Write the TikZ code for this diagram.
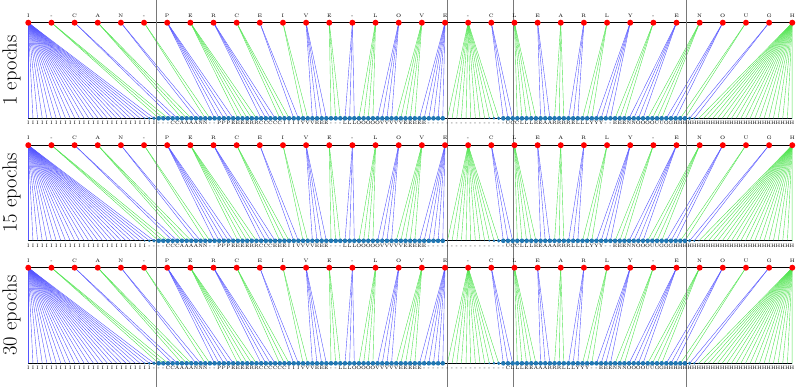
\documentclass[tikz,border=0pt]{standalone}
\usepackage{fontspec}
\usetikzlibrary{positioning, backgrounds}
\definecolor{cDot}{RGB}{255, 0, 0}
\definecolor{cFrame}{RGB}{31, 119, 180}
\definecolor{lBlue}{RGB}{85, 85, 255}
\definecolor{lGreen}{RGB}{80, 228, 80}
\definecolor{cSep}{RGB}{120, 120, 120}

\newcount\frameno
\def\transcript{I,-,C,A,N,-,P,E,R,C,E,I,V,E,-,L,O,V,E,-,C,L,E,A,R,L,Y,-,E,N,O,U,G,H}
\def\segcounts{28,3,2,3,2,2,5,5,4,3,2,2,4,3,3,4,4,5,6,12,3,5,3,3,3,3,4,3,4,4,3,2,2,21}

% one panel: #1 panel, #2 top row y, #3 caption, #4 frame labels
\newcommand{\epochpanel}[4]{%
  \node[epochlabel] (ep#1) at (16.5, #2+47.8) {#3};
  \foreach \ch [count=\k from 0] in \transcript {
    \node[chardot] (t#1-\k) at ({28.3+23.15*\k}, #2) {};
    \node[charlabel, above=5.3pt of t#1-\k.center] (tl#1-\k) {\ch};
  }
  \foreach \i in {0,...,164} {
    \pgfmathsetmacro{\dsize}{\i<=27 ? max(0.6,4.6-0.9*(28-\i)) : ((\i>=90 && \i<=101) ? max(0.6,4.6-0.9*(102-\i)) : (\i>=142 ? max(0.6,4.6-1.1*(\i-141)) : 4.6))}
    \node[framedot, minimum size=\dsize pt] (b#1-\i) at ({28.3+4.657*\i}, #2+95.6) {};
  }
  \global\frameno=0
  \foreach \lab/\cnt in {#4} {
    \foreach \j in {1,...,\cnt} {
      \pgfmathtruncatemacro{\fno}{\frameno}
      \node[framelabel, below=3pt of b#1-\fno.center] (bl#1-\fno) {\lab};
      \global\advance\frameno by 1
    }
  }
}

% alignment links of one panel
\newcommand{\epochlinks}[1]{%
  \global\frameno=0
  \foreach \cnt [count=\k from 0] in \segcounts {
    \ifodd\k \def\lncol{lGreen}\else \def\lncol{lBlue}\fi
    \foreach \j in {1,...,\cnt} {
      \pgfmathtruncatemacro{\fno}{\frameno}
      \draw[linkline, \lncol] (t#1-\k.center) -- (b#1-\fno.center);
      \global\advance\frameno by 1
    }
  }
  \draw[rowline] (t#1-0.center) -- (t#1-33.center);
  \draw[rowline] (b#1-0.center) -- (b#1-164.center);
}

\begin{document}
\begin{tikzpicture}[
    x=1pt, y=-1pt,
    chardot/.style={circle, fill=cDot, inner sep=0pt, minimum size=6pt},
    framedot/.style={circle, fill=cFrame, inner sep=0pt},
    charlabel/.style={font=\fontsize{5}{6}\selectfont, inner sep=0pt, text height=3.5pt, text depth=0pt},
    framelabel/.style={font=\fontsize{4.8}{6}\selectfont, inner sep=0pt, text height=3.4pt, text depth=0pt},
    epochlabel/.style={font=\fontsize{20.5}{24}\selectfont, rotate=90, anchor=base, inner sep=0pt},
    linkline/.style={line width=0.4pt},
    rowline/.style={line width=1pt, black},
    sepline/.style={line width=0.8pt, cSep}
]

\useasboundingbox (0,0) rectangle (797,387);

\epochpanel{1}{22.7}{1 epochs}{I/28,-/3,C/2,A/4,N/2,-/2,P/3,E/4,R/2,C/5,I/4,V/3,E/3,-/3,L/3,O/5,V/5,E/5,-/17,U/1,C/2,L/3,E/2,A/2,R/4,E/1,L/3,Y/3,-/2,E/3,N/2,O/4,U/2,G/2,H/26}
\epochpanel{2}{145.2}{15 epochs}{I/26,-/4,C/3,A/4,N/2,-/2,P/3,E/4,R/2,C/3,E/3,I/2,V/4,E/3,-/3,L/3,O/5,V/5,E/5,-/17,U/1,C/2,L/3,E/2,A/3,R/3,L/4,Y/3,-/2,E/3,N/2,O/3,U/2,G/3,H/26}
\epochpanel{3}{267.7}{30 epochs}{I/27,-/3,C/2,A/4,N/3,-/2,P/3,E/4,R/2,C/6,I/3,V/3,E/3,-/2,L/3,O/5,V/5,E/5,-/18,C/1,L/3,E/2,A/3,R/3,L/3,Y/3,-/2,E/3,N/3,O/4,U/2,G/2,H/28}

% links and separators behind the dots
\begin{scope}[on background layer]
    \epochlinks{1}
    \epochlinks{2}
    \epochlinks{3}
    \draw[sepline] (156,0) -- (156,387);
    \draw[sepline] (447,0) -- (447,387);
    \draw[sepline] (513,0) -- (513,387);
    \draw[sepline] (686.5,0) -- (686.5,387);
\end{scope}

\end{tikzpicture}
\end{document}
